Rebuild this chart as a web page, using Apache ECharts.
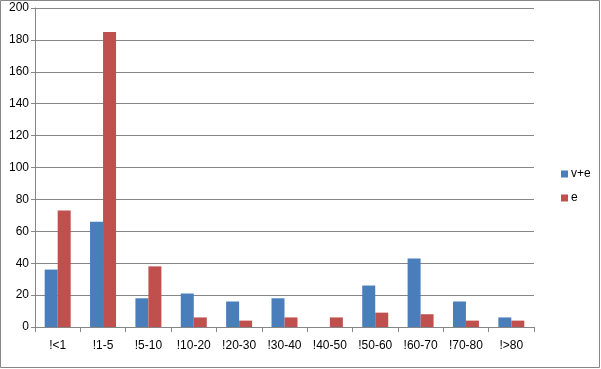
<!DOCTYPE html>
<html><head><meta charset="utf-8">
<script src="https://cdn.jsdelivr.net/npm/echarts@6/dist/echarts.min.js"></script>
<style>html,body{margin:0;padding:0;background:#fff}#c{width:601px;height:369px}</style>
</head><body><div id="c"></div>
<script>
const categories = ['!<1','!1-5','!5-10','!10-20','!20-30','!30-40','!40-50','!50-60','!60-70','!70-80','!>80'];
const seriesNames = ['v+e','e'];
const vePlusE = [36,66,18,21,16,18,0,26,43,16,6];
const eOnly = [73,185,38,6,4,6,6,9,8,4,4];
const yTicks = {min:0,max:200,interval:20};
const chart = echarts.init(document.getElementById('c'));
const font = 'Liberation Sans';
chart.setOption({
  animation:false,
  textStyle:{fontFamily:font},
  graphic:[{type:'rect',shape:{x:0.5,y:0.5,width:599,height:367},style:{fill:'none',stroke:'#868686',lineWidth:1}}],
  grid:{left:35,top:8,width:499,height:319,containLabel:false},
  legend:{orient:'vertical',left:556,top:163,itemWidth:7,itemHeight:7,itemGap:12,icon:'rect',
    textStyle:{fontFamily:font,fontSize:12,color:'#000',padding:[0,0,0,-2]},data:seriesNames},
  xAxis:{type:'category',data:categories,
    axisLine:{lineStyle:{color:'#868686'}},
    axisTick:{show:true,length:5,lineStyle:{color:'#868686'},alignWithLabel:false},
    axisLabel:{color:'#000',fontSize:12,margin:13,fontFamily:font}},
  yAxis:{type:'value',min:yTicks.min,max:yTicks.max,interval:yTicks.interval,
    axisLine:{show:true,lineStyle:{color:'#868686'}},
    axisTick:{show:true,length:4,lineStyle:{color:'#868686'}},
    splitLine:{lineStyle:{color:'#868686'}},
    axisLabel:{color:'#000',fontSize:12,margin:6,fontFamily:font}},
  series:[
    {name:seriesNames[0],type:'bar',data:vePlusE,barWidth:13,barGap:'0%',itemStyle:{color:'#4A7EBB'}},
    {name:seriesNames[1],type:'bar',data:eOnly,barWidth:13,barGap:'0%',itemStyle:{color:'#C0504D'}}
  ]
});
</script></body></html>
